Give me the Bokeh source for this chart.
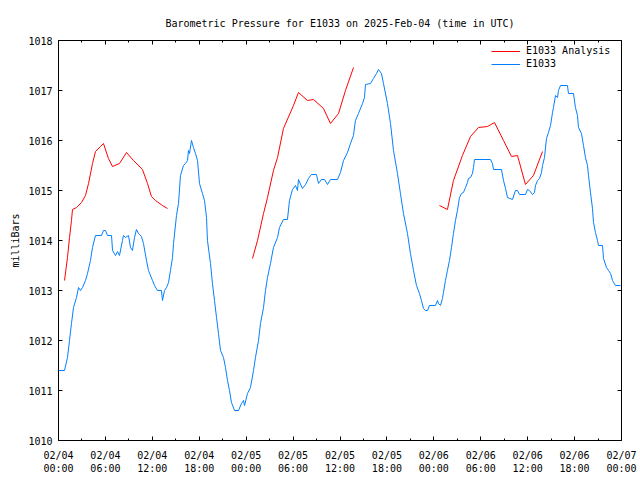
import math
from bokeh.plotting import figure
from bokeh.models import (FixedTicker, LinearAxis, Range1d, Legend, LegendItem,
                          CustomLabelingPolicy)
from bokeh.embed import file_html
from bokeh.resources import INLINE

FONT = "DejaVu Sans Mono"
TITLE = "Barometric Pressure for E1033 on 2025-Feb-04 (time in UTC)"

# x = hours since 2025-02-04 00:00 UTC
tick_hours = [0, 6, 12, 18, 24, 30, 36, 42, 48, 54, 60, 66, 72]
tick_labels = ["02/04\n00:00", "02/04\n06:00", "02/04\n12:00", "02/04\n18:00",
               "02/05\n00:00", "02/05\n06:00", "02/05\n12:00", "02/05\n18:00",
               "02/06\n00:00", "02/06\n06:00", "02/06\n12:00", "02/06\n18:00",
               "02/07\n00:00"]
minor_hours = [3, 9, 15, 21, 27, 33, 39, 45, 51, 57, 63, 69]
y_ticks = [1010, 1011, 1012, 1013, 1014, 1015, 1016, 1017, 1018]

# E1033 observed pressure (mbar)
obs_hours = [
    0.0, 0.77, 1.15, 1.41, 1.66, 1.92, 2.3, 2.56, 2.81, 3.07,
    3.45, 3.71, 4.09, 4.35, 4.73, 5.5, 5.75, 6.01, 6.27, 6.78,
    6.91, 7.29, 7.55, 7.8, 8.18, 8.31, 8.57, 8.95, 9.21, 9.46,
    9.72, 9.97, 10.23, 10.61, 10.87, 11.25, 11.51, 12.02, 12.28, 12.66,
    13.17, 13.3, 13.56, 13.81, 14.07, 14.32, 14.58, 14.71, 15.09, 15.35,
    15.6, 15.98, 16.24, 16.5, 16.62, 16.75, 17.01, 17.26, 17.52, 17.78,
    18.03, 18.41, 18.67, 18.93, 19.05, 19.44, 19.69, 19.95, 20.21, 20.46,
    20.72, 21.1, 21.36, 21.61, 21.87, 22.12, 22.51, 23.02, 23.4, 23.66,
    23.79, 24.17, 24.55, 24.94, 25.19, 25.58, 25.83, 26.22, 26.47, 26.73,
    27.11, 27.49, 28.01, 28.26, 28.77, 29.28, 29.54, 29.92, 30.31, 30.56,
    30.69, 31.2, 31.59, 31.97, 32.35, 32.99, 33.25, 33.63, 34.02, 34.4,
    34.78, 35.68, 36.06, 36.45, 36.96, 37.34, 37.72, 37.98, 38.36, 38.88,
    39.13, 39.26, 39.9, 40.28, 40.67, 40.92, 41.3, 41.56, 42.07, 42.46,
    42.84, 43.35, 43.73, 44.12, 44.63, 45.01, 45.4, 45.78, 46.16, 46.42,
    46.68, 46.93, 47.19, 47.44, 48.21, 48.47, 48.59, 48.85, 49.1, 49.23,
    49.49, 49.74, 50.0, 50.26, 50.51, 50.77, 51.02, 51.28, 51.53, 51.79,
    52.05, 52.3, 52.43, 52.69, 52.94, 53.07, 53.2, 55.25, 55.5, 55.63,
    56.65, 56.91, 57.17, 57.42, 58.06, 58.44, 58.7, 58.95, 59.72, 59.98,
    60.23, 60.62, 60.87, 61.0, 61.26, 61.51, 61.77, 61.9, 62.15, 62.41,
    62.66, 62.92, 63.18, 63.3, 63.56, 63.82, 63.94, 64.2, 65.09, 65.22,
    65.86, 66.11, 66.37, 66.5, 66.88, 67.14, 67.39, 67.65, 67.78, 68.03,
    68.29, 68.42, 68.67, 68.93, 69.06, 69.57, 69.7, 70.08, 70.34, 70.6,
    70.85, 71.23, 71.87,
]
obs_mbar = [
    1011.4, 1011.4, 1011.66, 1012.0, 1012.34, 1012.66, 1012.86, 1013.06, 1013.0, 1013.06,
    1013.2, 1013.34, 1013.6, 1013.86, 1014.1, 1014.1, 1014.2, 1014.2, 1014.1, 1014.1,
    1013.8, 1013.7, 1013.78, 1013.7, 1014.0, 1014.1, 1014.06, 1014.1, 1013.86, 1013.8,
    1014.06, 1014.22, 1014.14, 1014.08, 1013.94, 1013.6, 1013.4, 1013.2, 1013.1, 1013.0,
    1013.0, 1012.8, 1013.0, 1013.06, 1013.16, 1013.4, 1013.66, 1013.94, 1014.5, 1014.74,
    1015.3, 1015.5, 1015.54, 1015.6, 1015.8, 1015.74, 1016.0, 1015.86, 1015.74, 1015.6,
    1015.14, 1014.94, 1014.8, 1014.46, 1014.0, 1013.54, 1013.14, 1012.8, 1012.46, 1012.14,
    1011.8, 1011.66, 1011.46, 1011.2, 1011.0, 1010.76, 1010.6, 1010.6, 1010.74, 1010.8,
    1010.7, 1010.94, 1011.06, 1011.4, 1011.66, 1012.0, 1012.34, 1012.66, 1013.0, 1013.26,
    1013.54, 1013.86, 1014.06, 1014.26, 1014.42, 1014.42, 1014.8, 1015.02, 1015.1, 1015.0,
    1015.22, 1015.04, 1015.12, 1015.24, 1015.32, 1015.32, 1015.14, 1015.22, 1015.22, 1015.12,
    1015.22, 1015.22, 1015.36, 1015.6, 1015.76, 1015.94, 1016.1, 1016.4, 1016.54, 1016.74,
    1016.86, 1017.12, 1017.14, 1017.24, 1017.34, 1017.42, 1017.34, 1017.14, 1016.74, 1016.34,
    1015.8, 1015.34, 1014.94, 1014.54, 1014.14, 1013.74, 1013.4, 1013.1, 1012.94, 1012.8,
    1012.64, 1012.6, 1012.6, 1012.7, 1012.7, 1012.8, 1012.74, 1012.7, 1012.84, 1012.96,
    1013.2, 1013.4, 1013.6, 1013.86, 1014.14, 1014.4, 1014.6, 1014.86, 1014.94, 1014.96,
    1015.06, 1015.16, 1015.24, 1015.26, 1015.34, 1015.46, 1015.62, 1015.62, 1015.54, 1015.42,
    1015.42, 1015.2, 1015.04, 1014.86, 1014.82, 1015.0, 1015.0, 1014.92, 1014.92, 1015.02,
    1015.0, 1014.92, 1014.96, 1015.1, 1015.2, 1015.24, 1015.36, 1015.5, 1015.66, 1016.04,
    1016.16, 1016.3, 1016.56, 1016.66, 1016.9, 1016.86, 1017.0, 1017.1, 1017.1, 1016.94,
    1016.94, 1016.66, 1016.5, 1016.26, 1016.14, 1015.9, 1015.66, 1015.5, 1015.3, 1014.96,
    1014.64, 1014.36, 1014.16, 1014.0, 1013.9, 1013.9, 1013.64, 1013.46, 1013.4, 1013.34,
    1013.2, 1013.1, 1013.1,
]
assert len(obs_hours) == len(obs_mbar)

# E1033 Analysis, three runs
ana1_hours = [0.77, 1.15, 1.41, 1.66, 1.79, 2.3, 2.94, 3.45, 3.84, 4.35, 4.73, 5.37,
              5.75, 6.39, 6.91, 7.8, 8.7, 9.59, 10.74, 11.38, 11.89, 12.4, 13.3, 13.94]
ana1_mbar = [1013.2, 1013.66, 1014.06, 1014.4, 1014.62, 1014.66, 1014.76, 1014.9, 1015.14,
             1015.54, 1015.78, 1015.88, 1015.94, 1015.64, 1015.48, 1015.54, 1015.76, 1015.6,
             1015.42, 1015.14, 1014.88, 1014.8, 1014.7, 1014.64]
ana2_hours = [24.81, 25.45, 26.22, 26.73, 27.49, 28.01, 28.77, 30.05, 30.69, 31.84,
              32.61, 33.89, 34.78, 35.81, 36.7, 37.73]
ana2_mbar = [1013.64, 1014.0, 1014.54, 1014.86, 1015.4, 1015.66, 1016.24, 1016.7, 1016.96,
             1016.8, 1016.82, 1016.64, 1016.34, 1016.54, 1017.0, 1017.46]
ana3_hours = [48.72, 49.74, 50.51, 51.66, 52.69, 53.71, 54.86, 55.76, 56.91, 57.93,
              58.7, 59.72, 60.74, 61.9]
ana3_mbar = [1014.7, 1014.62, 1015.2, 1015.7, 1016.08, 1016.26, 1016.28, 1016.36, 1016.0,
             1015.68, 1015.7, 1015.12, 1015.3, 1015.78]

nan = float("nan")
ana_hours = ana1_hours + [nan] + ana2_hours + [nan] + ana3_hours
ana_mbar = ana1_mbar + [nan] + ana2_mbar + [nan] + ana3_mbar

p = figure(width=640, height=480, output_backend="svg", toolbar_location=None,
           x_range=Range1d(0, 72), y_range=Range1d(1010, 1018),
           min_border_left=58, min_border_right=19, min_border_top=40,
           min_border_bottom=40, title=TITLE)
p.xgrid.visible = False
p.ygrid.visible = False
p.outline_line_color = "black"
p.outline_line_alpha = 1.0
p.outline_line_width = 1
p.background_fill_color = "white"
p.border_fill_color = "white"

p.title.text_font = FONT
p.title.text_font_size = "10px"
p.title.text_font_style = "normal"
p.title.align = "center"
p.title.text_color = "black"
p.title.standoff = 23

xticker = FixedTicker(ticks=tick_hours, minor_ticks=minor_hours)
yticker = FixedTicker(ticks=y_ticks, minor_ticks=[])

xa = p.xaxis[0]
xa.ticker = xticker
xa.major_label_overrides = {t: lab for t, lab in zip(tick_hours, tick_labels)}
ya = p.yaxis[0]
ya.ticker = yticker
ya.axis_label = "milliBars"
ya.axis_label_text_font_style = "normal"
ya.axis_label_text_font = FONT
ya.axis_label_text_font_size = "10px"
ya.axis_label_text_color = "black"
ya.axis_label_standoff = 4
xa.major_label_standoff = 9
ya.major_label_standoff = 6

for ax in (xa, ya):
    ax.axis_line_color = None
    ax.major_tick_in = 4
    ax.major_tick_out = 0
    ax.minor_tick_in = 2
    ax.minor_tick_out = 0
    ax.major_tick_line_color = "black"
    ax.minor_tick_line_color = "black"
    ax.major_label_text_font = FONT
    ax.major_label_text_font_size = "10px"
    ax.major_label_text_color = "black"

hide_labels = CustomLabelingPolicy(code="""
try {
  const n = indices.size
  for (let i = 0; i < n; i++) { indices.unset(i) }
} catch (e) {}
return indices
""")

top = LinearAxis(ticker=xticker)
p.add_layout(top, "above")
right = LinearAxis(ticker=yticker)
p.add_layout(right, "right")
for ax in (top, right):
    ax.axis_line_color = None
    ax.major_tick_in = 4
    ax.major_tick_out = 0
    ax.minor_tick_in = 2
    ax.minor_tick_out = 0
    ax.major_label_text_font_size = "0px"
    ax.major_label_standoff = 0
    ax.major_label_policy = hide_labels

r_ana = p.line(x=ana_hours, y=ana_mbar, line_color="#ff0000", line_width=1)
r_obs = p.line(x=obs_hours, y=obs_mbar, line_color="#0080ff", line_width=1)

legend = Legend(items=[LegendItem(label="E1033 Analysis", renderers=[r_ana]),
                       LegendItem(label="E1033", renderers=[r_obs])],
                location=(431, 369))
legend.background_fill_alpha = 0
legend.border_line_alpha = 0
legend.label_text_font = FONT
legend.label_text_font_size = "10px"
legend.label_text_color = "black"
legend.glyph_width = 29
legend.glyph_height = 10
legend.label_height = 10
legend.spacing = 2
legend.padding = 2
legend.margin = 0
legend.label_standoff = 6
p.add_layout(legend)

open("out.html", "w").write(file_html(p, INLINE))
